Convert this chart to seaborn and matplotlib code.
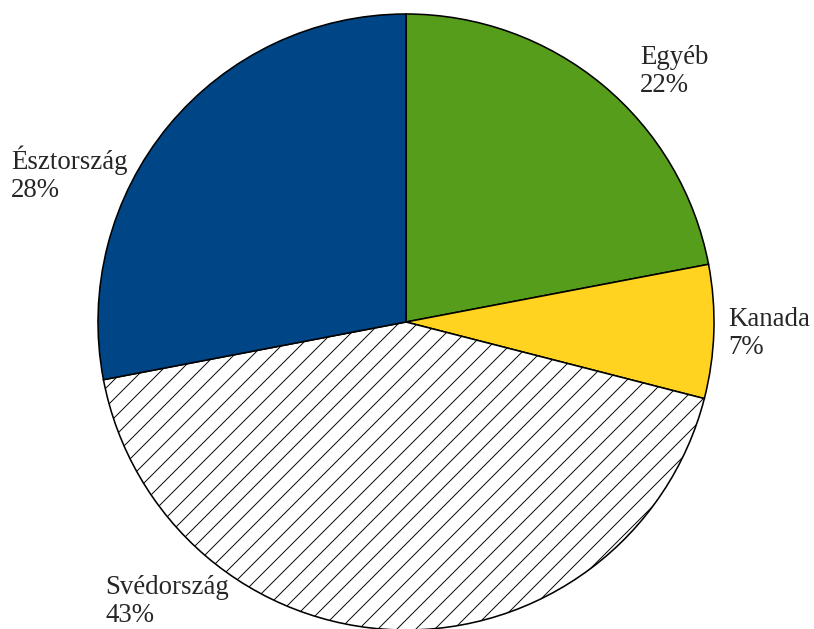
import matplotlib
matplotlib.use("Agg")
import matplotlib.pyplot as plt
import seaborn as sns

# chart data
countries = ["Egyéb", "Kanada", "Svédország", "Észtország"]
shares = [22, 7, 43, 28]
colors = ["#579d1c", "#ffd320", "#ffffff", "#004586"]
hatches = ["", "", "//", ""]

# left edge / last-line baseline of each label, in pie radius units
label_pos = [(0.760, 0.747), (1.045, -0.104), (-0.977, -0.974), (-1.282, 0.406)]

sns.set_style("white")
plt.rcParams["font.family"] = ["Liberation Serif", "DejaVu Serif"]
plt.rcParams["hatch.linewidth"] = 0.6

DPI = 114
W, H = 814, 629
fig = plt.figure(figsize=(W / DPI, H / DPI), dpi=DPI)

# pie centre (406, 322) px from top-left, radius 308 px
cx, cy, r = 406, 322, 308
ax = fig.add_axes([(cx - r) / W, (H - cy - r) / H, 2 * r / W, 2 * r / H])

wedges, _ = ax.pie(
    shares,
    colors=colors,
    startangle=90,
    counterclock=False,
    radius=1,
    wedgeprops=dict(edgecolor="black", linewidth=1.0),
)
for w, h in zip(wedges, hatches):
    if h:
        w.set_hatch(h)

for name, val, (x, y) in zip(countries, shares, label_pos):
    ax.text(x, y, f"{name}\n{val}%", ha="left", va="baseline", fontsize=17,
            linespacing=1.18, clip_on=False)

ax.set_xlim(-1, 1)
ax.set_ylim(-1, 1)
ax.set_aspect("auto")
ax.axis("off")

fig.savefig("out.png", dpi=DPI)
